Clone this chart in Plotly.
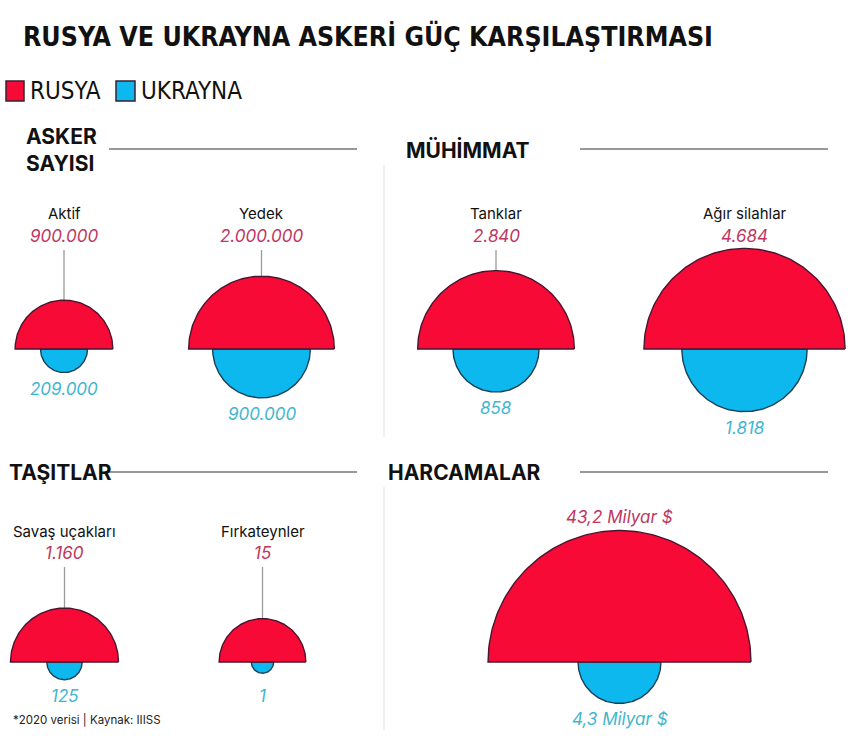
import numpy as np
import plotly.graph_objects as go

# ---------------- data ----------------
panel_titles = ["ASKER<br>SAYISI", "MÜHİMMAT", "TAŞITLAR", "HARCAMALAR"]
categories = ["Aktif", "Yedek", "Tanklar", "Ağır silahlar",
              "Savaş uçakları", "Fırkateynler", ""]
rusya = [900000, 2000000, 2840, 4684, 1160, 15, 43.2]
ukrayna = [209000, 900000, 858, 1818, 125, 1, 4.3]
value_suffix = ["", "", "", "", "", "", " Milyar $"]
legend_labels = ["RUSYA", "UKRAYNA"]
title_text = "RUSYA VE UKRAYNA ASKERİ GÜÇ KARŞILAŞTIRMASI"
footer_text = "*2020 verisi | Kaynak: IIISS"

# ---------------- layout / style ----------------
W, H = 850, 736
RED, RED_LINE = "#F70A36", "#4a1530"
BLUE, BLUE_LINE = "#0CB8EE", "#1a3f55"
RED_TXT, BLUE_TXT = "#c0365e", "#3fb6cf"
FONT = "Inter, Roboto, sans-serif"
TITLE_FONT = "Liberation Sans Narrow, DejaVu Sans Condensed, sans-serif"

cx = [64, 261.5, 496, 744.5, 64.5, 262.5, 619.5]
base = [349, 349, 349, 349, 662, 662, 662]
px_per_sqrt = [0.0515, 0.0515, 1.47, 1.47, 1.585, 11.2, 20.0]
cat_y = [213, 213, 213, 213, 531, 531, None]
val_y = [236, 236, 236, 236, 553, 553, 517]


def fmt(v):
    if float(v).is_integer():
        return f"{int(v):,}".replace(",", ".")
    return f"{v}".replace(".", ",")


def half_circle(x0, y0, r, up=True):
    t = np.linspace(0, np.pi, 120)
    xs = x0 + r * np.cos(t)
    ys = y0 - r * np.sin(t) if up else y0 + r * np.sin(t)
    return np.append(xs, xs[0]), np.append(ys, ys[0])


fig = go.Figure()
annotations = []
shapes = []

for i, cat in enumerate(categories):
    rr = px_per_sqrt[i] * np.sqrt(rusya[i])
    rb = px_per_sqrt[i] * np.sqrt(ukrayna[i])
    # stem line from value label to red top
    top = base[i] - rr
    stem_start = val_y[i] + 14
    if top - stem_start > 6 and cat:
        fig.add_trace(go.Scatter(x=[cx[i], cx[i]], y=[stem_start, top], mode="lines",
                                 line=dict(color="#9a9a9a", width=1.3),
                                 hoverinfo="skip", showlegend=False))
    xb, yb = half_circle(cx[i], base[i], rb, up=False)
    fig.add_trace(go.Scatter(x=xb, y=yb, mode="lines", fill="toself", fillcolor=BLUE,
                             line=dict(color=BLUE_LINE, width=1.4), name="UKRAYNA",
                             hoverinfo="text", text=f"{cat} UKRAYNA: {fmt(ukrayna[i])}",
                             showlegend=False))
    xr, yr = half_circle(cx[i], base[i], rr, up=True)
    fig.add_trace(go.Scatter(x=xr, y=yr, mode="lines", fill="toself", fillcolor=RED,
                             line=dict(color=RED_LINE, width=1.4), name="RUSYA",
                             hoverinfo="text", text=f"{cat} RUSYA: {fmt(rusya[i])}",
                             showlegend=False))
    if cat:
        annotations.append(dict(x=cx[i], y=cat_y[i], text=cat, showarrow=False,
                                xanchor="center", yanchor="middle",
                                font=dict(family=FONT, size=15, color="#111")))
    annotations.append(dict(x=cx[i], y=val_y[i], text=f"<i>{fmt(rusya[i])}{value_suffix[i]}</i>",
                            showarrow=False, xanchor="center", yanchor="middle",
                            font=dict(family=FONT, size=17, color=RED_TXT)))
    by = base[i] + max(rb, 18) + 16
    annotations.append(dict(x=cx[i], y=by, text=f"<i>{fmt(ukrayna[i])}{value_suffix[i]}</i>",
                            showarrow=False, xanchor="center", yanchor="middle",
                            font=dict(family=FONT, size=17, color=BLUE_TXT)))

# panel headers
hdr = [(24, 150, 109, 357, 149), (404, 150, 580, 828, 149),
       (7, 472, 105, 357, 472), (386, 472, 580, 828, 472)]
for (tx, ty, lx0, lx1, ly), t in zip(hdr, panel_titles):
    annotations.append(dict(x=tx, y=ty, text=f"<b>{t}</b>", showarrow=False,
                            xanchor="left", yanchor="middle", align="left",
                            font=dict(family=FONT, size=21, color="#111")))
    shapes.append(dict(type="line", x0=lx0, x1=lx1, y0=ly, y1=ly, xref="x", yref="y",
                       line=dict(color="#333", width=1.2)))

# vertical separators
for y0, y1 in [(165, 437), (487, 730)]:
    shapes.append(dict(type="line", x0=384, x1=384, y0=y0, y1=y1, xref="x", yref="y",
                       line=dict(color="#ececec", width=1.5)))

# legend
for (x0, x1), col, lab, tx in zip([(6, 24), (116, 135)], [RED, BLUE], legend_labels, [28, 139]):
    shapes.append(dict(type="rect", x0=x0, x1=x1, y0=81, y1=101, xref="x", yref="y",
                       fillcolor=col, line=dict(color="#3a2030", width=1.5)))
    annotations.append(dict(x=tx, y=91, text=lab, showarrow=False, xanchor="left",
                            yanchor="middle", font=dict(family=TITLE_FONT, size=24, color="#111")))

# title
annotations.append(dict(x=21, y=36, text=f"<b>{title_text}</b>", showarrow=False,
                        xanchor="left", yanchor="middle",
                        font=dict(family=TITLE_FONT, size=26.5, color="#111")))
# footer
annotations.append(dict(x=11, y=720, text=footer_text, showarrow=False, xanchor="left",
                        yanchor="middle", font=dict(family=FONT, size=11.5, color="#222")))

fig.update_layout(
    width=W, height=H, margin=dict(l=0, r=0, t=0, b=0),
    paper_bgcolor="white", plot_bgcolor="white",
    xaxis=dict(range=[0, W], visible=False, fixedrange=True),
    yaxis=dict(range=[H, 0], visible=False, fixedrange=True),
    annotations=annotations, shapes=shapes, showlegend=False,
)
fig.write_html("out.html", config={"displayModeBar": False})
